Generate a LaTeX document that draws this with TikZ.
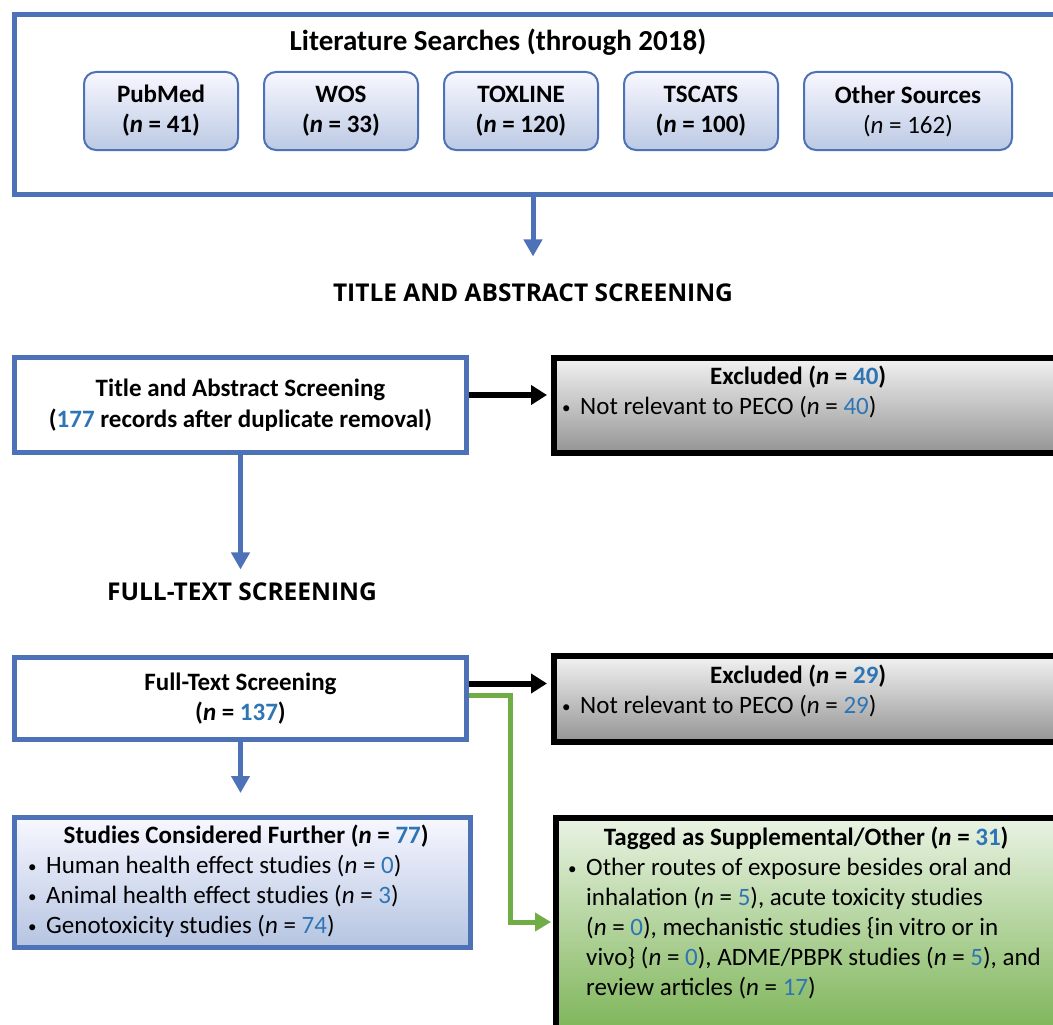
\documentclass[tikz,border=0pt]{standalone}
\usepackage{fontspec}
\setmainfont{Carlito}
\newfontfamily\headfont{Open Sans}
\usetikzlibrary{positioning, arrows.meta}

\definecolor{frameblue}{HTML}{4E72B7}
\definecolor{numblue}{HTML}{2E75B6}
\definecolor{flowgreen}{HTML}{70AD47}
\newcommand{\num}[1]{\textcolor{numblue}{#1}}
\newcommand{\nis}[1]{(\textit{n} = \num{#1})}
\newcommand{\bul}{\makebox[18pt][l]{\raisebox{1pt}{\fontsize{17}{17}\selectfont\textbullet}}}

\begin{document}
\begin{tikzpicture}[x=1pt, y=-1pt,
    bluebox/.style={draw=frameblue, line width=5pt, fill=white, anchor=north west, inner sep=0pt, align=center},
    srcbox/.style={draw=frameblue, line width=2pt, rounded corners=12pt, top color=blue!3, bottom color=frameblue!38, minimum width=154pt, minimum height=78pt, align=center, font=\fontsize{25}{30}\selectfont\bfseries},
    greybox/.style={draw=black, line width=6pt, top color=black!5, bottom color=black!42, anchor=north west, inner sep=0pt},
    greenbox/.style={draw=black, line width=6pt, top color=flowgreen!15, bottom color=flowgreen, anchor=north west, inner sep=0pt},
    heading/.style={font=\headfont\fontsize{24.5}{28}\selectfont\bfseries},
    boxtext/.style={anchor=north west, align=left, inner sep=0pt},
    bluearrow/.style={draw=frameblue, line width=5pt, -{Triangle[length=17pt, width=18pt]}},
    blackarrow/.style={draw=black, line width=6pt, -{Triangle[length=16pt, width=19pt]}},
    greenarrow/.style={draw=flowgreen, line width=5pt, -{Triangle[length=16pt, width=18pt]}}
  ]
  \useasboundingbox (0, 0) rectangle (1053, 1025);
  \clip (0, 0) rectangle (1053, 1025);

  % literature searches
  \node[bluebox, minimum width=1060pt, minimum height=180pt] (lit) at (12, 12) {};
  \node[font=\fontsize{29}{33}\selectfont\bfseries] (littitle) at (498, 42) {Literature Searches (through 2018)};
  \node[srcbox] (pubmed) at (161, 111) {PubMed\\(\textit{n} = 41)};
  \node[srcbox, right=24pt of pubmed] (wos) {WOS\\(\textit{n} = 33)};
  \node[srcbox, right=24pt of wos] (toxline) {TOXLINE\\(\textit{n} = 120)};
  \node[srcbox, right=24pt of toxline] (tscats) {TSCATS\\(\textit{n} = 100)};
  \node[srcbox, right=24pt of tscats, minimum width=208pt] (other) {Other Sources\\{\mdseries(\textit{n} = 162)}};

  % title and abstract screening
  \node[heading] (tahead) at (533, 293) {TITLE AND ABSTRACT SCREENING};
  \node[bluebox, minimum width=452pt, minimum height=95pt, font=\fontsize{25}{31}\selectfont\bfseries] (tabox) at (12, 355)
    {Title and Abstract Screening\\(\num{177} records after duplicate removal)};
  \node[greybox, minimum width=520pt, minimum height=95pt] (ex1) at (551, 355) {};
  \node[boxtext, font=\fontsize{25}{30}\selectfont] (ex1text) at (562, 366)
    {\makebox[472pt][c]{\textbf{Excluded (\textit{n} = \num{40})}}\\\bul Not relevant to PECO \nis{40}};

  % full-text screening
  \node[heading] (fthead) at (242, 592) {FULL-TEXT SCREENING};
  \node[bluebox, minimum width=452pt, minimum height=82pt, font=\fontsize{25}{30}\selectfont] (ftbox) at (12, 655)
    {\textbf{Full-Text Screening}\\\textbf{(\textit{n} = \num{137})}};
  \node[greybox, minimum width=520pt, minimum height=86pt] (ex2) at (551, 653) {};
  \node[boxtext, font=\fontsize{25}{30}\selectfont] (ex2text) at (562, 665)
    {\makebox[472pt][c]{\textbf{Excluded (\textit{n} = \num{29})}}\\\bul Not relevant to PECO \nis{29}};

  % results
  \node[bluebox, minimum width=456pt, minimum height=130pt, top color=blue!3, bottom color=frameblue!42] (stbox) at (12, 815) {};
  \node[boxtext, font=\fontsize{25}{30}\selectfont] (sttext) at (28, 825)
    {\makebox[436pt][c]{\textbf{Studies Considered Further (\textit{n} = \num{77})}}\\
     \bul Human health effect studies \nis{0}\\
     \bul Animal health effect studies \nis{3}\\
     \bul Genotoxicity studies \nis{74}};
  \node[greenbox, minimum width=530pt, minimum height=240pt] (tagbox) at (553, 815) {};
  \node[boxtext, font=\fontsize{25}{30}\selectfont] (tagtext) at (568, 827)
    {\makebox[476pt][c]{\textbf{Tagged as Supplemental/Other (\textit{n} = \num{31})}}\\
     \bul Other routes of exposure besides oral and\\
     \hspace*{18pt}inhalation \nis{5}, acute toxicity studies\\
     \hspace*{18pt}\nis{0}, mechanistic studies \{in vitro or in\\
     \hspace*{18pt}vivo\} \nis{0}, ADME/PBPK studies \nis{5}, and\\
     \hspace*{18pt}review articles \nis{17}};

  % connectors
  \coordinate (bend) at (510, 695);
  \coordinate (tagin) at (551, 922);
  \path (lit.south -| tahead.north) edge[bluearrow, shorten >=24pt] (tahead.north);
  \path (tabox.south) edge[bluearrow, shorten >=10pt] (tabox.south |- fthead.north);
  \path (ftbox.south) edge[bluearrow, shorten >=22pt] (stbox.north -| ftbox.south);
  \path ([yshift=10pt]tabox.east) edge[blackarrow, shorten >=4pt] ([yshift=10pt]tabox.east -| ex1.west);
  \path ([yshift=15pt]ftbox.east) edge[blackarrow, shorten >=4pt] ([yshift=15pt]ftbox.east -| ex2.west);
  \draw[greenarrow] (ftbox.east |- bend) -- (bend) |- (tagin);
\end{tikzpicture}
\end{document}
